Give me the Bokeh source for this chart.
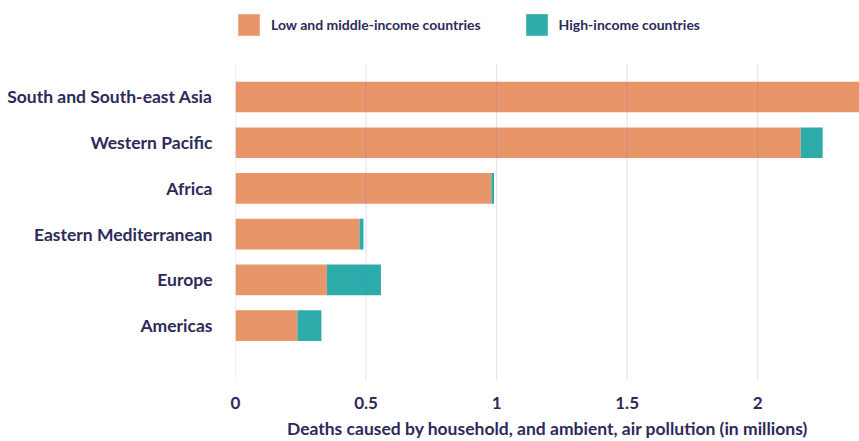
from bokeh.plotting import figure
from bokeh.models import Range1d, FixedTicker, NumeralTickFormatter, Legend, LegendItem
from bokeh.embed import file_html
from bokeh.resources import INLINE

regions = ["South and South-east Asia", "Western Pacific", "Africa",
           "Eastern Mediterranean", "Europe", "Americas"]
low_mid = [2.80, 2.165, 0.980, 0.475, 0.350, 0.237]
high_inc = [0.02, 0.084, 0.010, 0.015, 0.207, 0.092]
x_ticks = [0, 0.5, 1, 1.5, 2]

ORANGE = "#e8956a"
TEAL = "#2eabab"
NAVY = "#2d2a5a"
FONT = "Lato"

n = len(regions)
ypos = [n - 1 - i for i in range(n)]
totals = [a + b for a, b in zip(low_mid, high_inc)]

Y_LO, Y_HI, Y_TOP = -1.2, 5.71, 7.11

p = figure(width=859, height=441, output_backend="svg", toolbar_location=None,
           x_range=Range1d(0, 2.39), y_range=Range1d(Y_LO, Y_TOP),
           min_border_left=235, min_border_top=0, min_border_bottom=56,
           min_border_right=0)
p.outline_line_color = None
p.background_fill_color = "white"

r1 = p.hbar(y=ypos, left=0, right=low_mid, height=0.67, fill_color=ORANGE, line_color=None)
r2 = p.hbar(y=ypos, left=low_mid, right=totals, height=0.67, fill_color=TEAL, line_color=None)

# vertical grid lines drawn above the bars, only over the bar area
p.segment(x0=x_ticks, x1=x_ticks, y0=Y_LO, y1=Y_HI,
          line_color="#7070d8", line_alpha=0.22, line_width=1)
p.xgrid.visible = False
p.ygrid.visible = False

# x axis
xa = p.xaxis[0]
xa.ticker = FixedTicker(ticks=x_ticks)
xa.formatter = NumeralTickFormatter(format="0.[0]")
xa.axis_line_color = None
xa.major_tick_line_color = None
xa.minor_tick_line_color = None
xa.major_label_standoff = 10
xa.major_label_text_font = FONT
xa.major_label_text_font_style = "bold"
xa.major_label_text_font_size = "17px"
xa.major_label_text_color = NAVY
xa.axis_label = "Deaths caused by household, and ambient, air pollution (in millions)"
xa.axis_label_text_font = FONT
xa.axis_label_text_font_style = "bold"
xa.axis_label_text_font_size = "17.5px"
xa.axis_label_text_color = NAVY
xa.axis_label_standoff = 6

# y axis
ya = p.yaxis[0]
ya.ticker = FixedTicker(ticks=ypos)
ya.major_label_overrides = {y: r for y, r in zip(ypos, regions)}
ya.axis_line_color = None
ya.major_tick_line_color = None
ya.minor_tick_line_color = None
ya.major_label_standoff = 17
ya.major_label_text_font = FONT
ya.major_label_text_font_style = "bold"
ya.major_label_text_font_size = "17.5px"
ya.major_label_text_color = NAVY

legend = Legend(items=[LegendItem(label="Low and middle-income countries", renderers=[r1]),
                       LegendItem(label="High-income countries", renderers=[r2])],
                orientation="horizontal", location=(0, 342),
                glyph_width=27, glyph_height=27, label_standoff=9, spacing=42,
                padding=0, margin=0, border_line_color=None, background_fill_alpha=0,
                label_text_font=FONT, label_text_font_style="bold",
                label_text_font_size="14px", label_text_color=NAVY)
p.add_layout(legend, "center")

open("out.html", "w").write(file_html(p, INLINE))
